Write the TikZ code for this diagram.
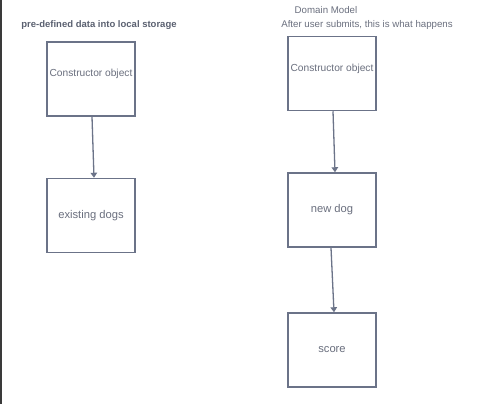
\documentclass[tikz,border=0pt]{standalone}
\usepackage{fontspec}
\setmainfont{Liberation Sans}
\usetikzlibrary{arrows.meta,calc}
\definecolor{boxline}{HTML}{6B7388}
\definecolor{txt}{HTML}{6A6F7E}
\definecolor{ttl}{HTML}{5A6070}
\definecolor{edge}{HTML}{3A3A3A}
\tikzset{
  box/.style={draw=boxline, line width=1.5pt, minimum width=88pt, minimum height=74pt, inner sep=0pt, fill=white},
  boxtxt/.style={font=\fontsize{11.2}{13}\selectfont, text=txt},
  conlabel/.style={font=\fontsize{10.2}{12}\selectfont, text=txt},
  conn/.style={draw=boxline, line width=1.3pt, -{Triangle[width=6.5pt,length=5pt]}},
  heading/.style={font=\fontsize{9.7}{11}\selectfont, text=txt, inner sep=0pt},
  boldheading/.style={font=\bfseries\fontsize{9.5}{11}\selectfont, text=ttl, inner sep=0pt}
}
\begin{document}
\begin{tikzpicture}[x=1pt,y=-1pt]
\useasboundingbox (0,0) rectangle (495,404);
\draw[edge, line width=1.6pt] (0.8,0) -- (0.8,404);
\node[boldheading] (t1) at (99,25) {pre-defined data into local storage};
\node[heading] (t2) at (326,10) {Domain Model};
\node[heading] (t3) at (367,25) {After user submits, this is what happens};

\node[box, label={[conlabel, yshift=5.5pt]center:Constructor object}] (c1) at (91,79) {};
\node[box, boxtxt] (ed) at (91,215.5) {existing dogs};

\node[box, label={[conlabel, yshift=4.5pt]center:Constructor object}] (c2) at (332,73.5) {};
\node[box, boxtxt] (nd) at (332,210) {new dog};
\node[box, boxtxt] (sc) at (332,350) {score};

\draw[conn] ($(c1.south)+(1,0)$) -- ($(ed.north)+(3,0)$);
\draw[conn] ($(c2.south)+(1,0)$) -- ($(nd.north)+(3,0)$);
\draw[conn] ($(nd.south)+(-1,0)$) -- ($(sc.north)+(2,0)$);
\end{tikzpicture}
\end{document}
